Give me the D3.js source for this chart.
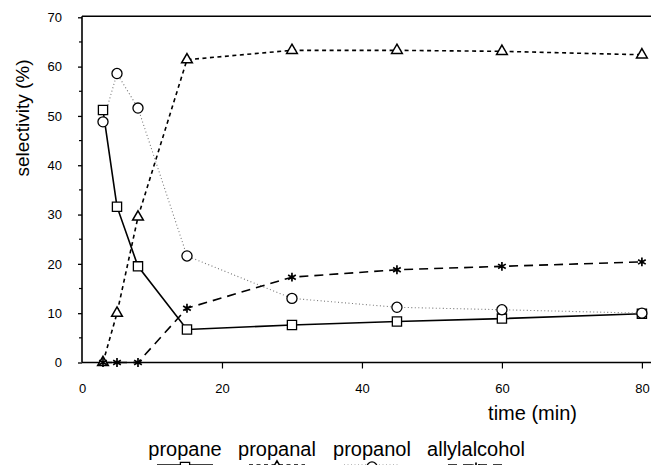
<!DOCTYPE html>
<html><head><meta charset="utf-8">
<script src="https://cdn.jsdelivr.net/npm/d3@7"></script>
<style>
html,body{margin:0;padding:0;background:#fff;}
svg text{font-family:"Liberation Sans",Arial,Helvetica,sans-serif;fill:#000;}
</style></head>
<body><svg id="c" width="651" height="465"></svg>
<script>
const times = [3, 5, 8, 15, 30, 45, 60, 80];
const propane = [51.2, 31.6, 19.5, 6.7, 7.6, 8.3, 8.9, 9.9];
const propanal = [0, 10.0, 29.5, 61.4, 63.3, 63.3, 63.1, 62.4];
const propanol = [48.8, 58.6, 51.6, 21.6, 13.0, 11.2, 10.7, 10.0];
const allylalcohol = [0, 0, 0, 11.0, 17.3, 18.8, 19.5, 20.4];
const seriesNames = ["propane", "propanal", "propanol", "allylalcohol"];
const xTicks = [0, 20, 40, 60, 80];
const yTicks = [0, 10, 20, 30, 40, 50, 60, 70];
const yMinorTicks = [5, 15, 25, 35, 45, 55, 65];

const svg = d3.select("#c");
const x = d3.scaleLinear().domain([0, 81.3]).range([82, 651]);
const y = d3.scaleLinear().domain([0, 70]).range([362.5, 17.3]);

const styles = {
  propane: {dash: null, color: "#000", width: 1.6, sym: d3.symbolSquare, size: 85, fill: "#fff", sw: 1.3},
  propanal: {dash: "4,3.5", color: "#000", width: 1.6, sym: d3.symbolTriangle, size: 50, fill: "#fff", sw: 1.5},
  propanol: {dash: "1,2.5", color: "#777", width: 1.1, sym: d3.symbolCircle, size: 80, fill: "#fff", sw: 1.3},
  allylalcohol: {dash: "9,6", color: "#000", width: 1.6, sym: d3.symbolAsterisk, size: 55, fill: "none", sw: 1.7}
};
const data = {propane, propanal, propanol, allylalcohol};

// axes
const yAxis = d3.axisLeft(y).tickValues(yTicks).tickSize(4).tickPadding(16).tickFormat(d3.format("d"));
const gy = svg.append("g").attr("transform", `translate(${x(0)},0)`).call(yAxis);
gy.select(".domain").remove();
gy.selectAll("text").style("font-size", "13px");
gy.selectAll("line").attr("stroke-width", 1.3);
svg.append("g").selectAll("line").data(yMinorTicks).join("line")
  .attr("x1", x(0) - 3).attr("x2", x(0)).attr("y1", d => y(d)).attr("y2", d => y(d))
  .attr("stroke", "#000").attr("stroke-width", 1.2);

const xAxis = d3.axisBottom(x).tickValues(xTicks).tickSize(6).tickPadding(15).tickFormat(d3.format("d"));
const gx = svg.append("g").attr("transform", `translate(0,${y(0)})`).call(xAxis);
gx.select(".domain").remove();
gx.selectAll("text").style("font-size", "13px");
gx.selectAll("line").attr("stroke-width", 1.2);
gx.selectAll(".tick").filter(d => d === 0).select("line").remove();

// frame
svg.append("line").attr("x1", x(0)).attr("x2", 651).attr("y1", y(0)).attr("y2", y(0)).attr("stroke", "#000").attr("stroke-width", 1.6);
svg.append("line").attr("x1", x(0)).attr("x2", x(0)).attr("y1", y(0)).attr("y2", y(70) - 1).attr("stroke", "#000").attr("stroke-width", 1.6);
svg.append("line").attr("x1", x(0)).attr("x2", 651).attr("y1", y(70) - 1).attr("y2", y(70) - 1).attr("stroke", "#000").attr("stroke-width", 1.6);

// axis titles
svg.append("text").attr("transform", "translate(29,118) rotate(-90)").attr("text-anchor", "middle")
  .style("font-size", "19px").text("selectivity (%)");
svg.append("text").attr("x", 577).attr("y", 420).attr("text-anchor", "end")
  .style("font-size", "20px").text("time (min)");

// lines
const line = d3.line().x(d => x(d[0])).y(d => y(d[1]));
seriesNames.forEach(name => {
  const s = styles[name];
  const pts = times.map((t, i) => [t, data[name][i]]);
  svg.append("path").attr("d", line(pts)).attr("fill", "none").attr("stroke", s.color)
    .attr("stroke-width", s.width).attr("stroke-dasharray", s.dash);
});
// markers
seriesNames.forEach(name => {
  const s = styles[name];
  const sym = d3.symbol().type(s.sym).size(s.size);
  svg.append("g").selectAll("path").data(times.map((t, i) => [t, data[name][i]])).join("path")
    .attr("transform", d => `translate(${x(d[0])},${y(d[1])})`)
    .attr("d", sym).attr("fill", s.fill).attr("stroke", "#000").attr("stroke-width", s.sw);
});

// legend
const legendX = [185, 277, 372, 476];
seriesNames.forEach((name, i) => {
  const s = styles[name];
  const cx = legendX[i];
  svg.append("text").attr("x", cx).attr("y", 456).attr("text-anchor", "middle")
    .style("font-size", "20px").text(name);
  svg.append("line").attr("x1", cx - 28).attr("x2", cx + 28).attr("y1", 465).attr("y2", 465)
    .attr("stroke", s.color).attr("stroke-width", s.width).attr("stroke-dasharray", s.dash);
  svg.append("path").attr("transform", `translate(${cx},467)`)
    .attr("d", d3.symbol().type(s.sym).size(s.size)).attr("fill", s.fill).attr("stroke", "#000").attr("stroke-width", s.sw);
});
</script></body></html>
